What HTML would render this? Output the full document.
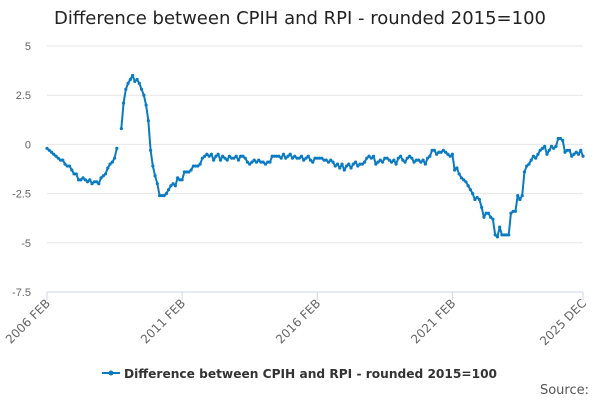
<!DOCTYPE html>
<html><head><meta charset="utf-8"><style>
body{margin:0;background:#fff;font-family:"Liberation Sans",sans-serif;}
svg{display:block}
</style></head><body>
<svg id="c" width="600" height="400">
<text x="300" y="24" text-anchor="middle" font-size="18" fill="#222" font-family="DejaVu Sans, sans-serif">Difference between CPIH and RPI - rounded 2015=100</text>
<g id="grid"></g><g id="series"></g>
<g>
<line x1="102" y1="373" x2="120" y2="373" stroke="#0a7bc2" stroke-width="2"/>
<circle cx="111" cy="373" r="2.5" fill="#0a7bc2"/>
<text x="124" y="378" font-size="12.2" font-weight="bold" fill="#333" font-family="DejaVu Sans, sans-serif">Difference between CPIH and RPI - rounded 2015=100</text>
</g>
<text x="589" y="394" text-anchor="end" font-size="13" fill="#555" font-family="DejaVu Sans, sans-serif">Source:</text>
</svg>
<script>
const yTicks=[5,2.5,0,-2.5,-5,-7.5];
const yTickLabels=["5","2.5","0","-2.5","-5","-7.5"];
const xTickIdx=[0,60,120,180,238];
const xTickLabels=["2006 FEB","2011 FEB","2016 FEB","2021 FEB","2025 DEC"];
const values=[
-0.2,-0.3,-0.4,-0.5,-0.6,-0.7,-0.8,-0.8,-1.0,-1.1,-1.1,-1.3,-1.5,-1.5,-1.8,-1.8,-1.7,-1.8,-1.9,-1.8,-2.0,-1.9,-1.9,-2.0,-1.7,-1.6,-1.5,-1.2,-1.0,-0.9,-0.7,-0.2,
null,
0.8,2.1,2.8,3.1,3.3,3.5,3.2,3.3,3.1,2.8,2.5,2.0,1.2,-0.3,-1.1,-1.6,-2.0,
-2.6,-2.6,-2.6,-2.5,-2.3,-2.1,-2.0,-2.1,-1.7,-1.8,-1.8,
-1.4,-1.4,-1.4,-1.3,-1.1,-1.1,-1.1,-1.0,-0.7,-0.6,-0.5,-0.6,-0.5,-0.8,-0.6,-0.5,-0.8,-0.6,-0.7,-0.8,-0.6,-0.7,-0.7,-0.6,-0.8,-0.6,-0.6,-0.7,-0.9,-1.0,
-0.9,-0.8,-0.9,-0.8,-0.9,-0.9,-1.0,-0.9,-0.9,-0.6,-0.6,-0.6,-0.6,-0.7,-0.5,-0.7,-0.6,-0.5,-0.7,-0.6,-0.7,-0.7,-0.6,-0.8,-0.7,-0.6,-0.8,-0.9,-0.7,-0.7,
-0.7,-0.7,-0.8,-0.8,-0.9,-0.8,-0.9,-1.1,-1.0,-1.2,-1.0,-1.3,-1.1,-1.0,-1.2,-1.0,-0.9,-1.1,-1.0,-1.0,-0.9,-0.7,-0.6,-0.7,-0.6,-1.0,-0.9,-0.8,-0.9,-0.7,
-0.7,-0.8,-0.9,-0.8,-1.0,-0.7,-0.6,-0.8,-0.9,-0.7,-0.6,-0.7,-0.9,-0.8,-0.8,-0.9,-0.8,-1.0,-0.7,-0.6,
-0.3,-0.3,-0.5,-0.4,-0.4,-0.3,-0.4,-0.5,-0.6,-0.5,-1.3,-1.2,-1.5,-1.7,-1.8,-1.9,-2.1,-2.3,-2.5,-2.8,-2.7,-2.8,-3.2,-3.7,-3.5,-3.5,-3.7,-3.8,-4.6,-4.7,
-4.2,-4.6,-4.6,-4.6,-4.6,-3.5,-3.4,-3.4,-2.6,-2.8,-2.6,-1.4,-1.1,-1.0,-0.8,-0.6,-0.7,-0.5,-0.3,-0.2,-0.1,-0.5,-0.3,-0.1,-0.2,-0.1,0.3,0.3,0.2,-0.4,-0.3,-0.3,-0.6,-0.5,-0.4,-0.5,-0.3,-0.6
];
const NS="http://www.w3.org/2000/svg";
const X0=47,X1=583,Y5=46,Ym75=292,N=239;
const xs=i=>X0+(X1-X0)*i/(N-1);
const ys=v=>Y5+(5-v)*(Ym75-Y5)/12.5;
const grid=document.getElementById('grid'),ser=document.getElementById('series');
function mk(t,a,p){const e=document.createElementNS(NS,t);for(const k in a)e.setAttribute(k,a[k]);p.appendChild(e);return e;}
yTicks.forEach((v,i)=>{
 const l=mk('line',{x1:X0,x2:X1,y1:ys(v),y2:ys(v),stroke:i==yTicks.length-1?'#ccd6eb':'#e6e6e6','stroke-width':1},grid);
 
 
 const t=mk('text',{x:31,y:ys(v)+4,'text-anchor':'end','font-size':11,fill:'#666'},grid);
 t.textContent=yTickLabels[i];
 
 
});
xTickIdx.forEach((ix,i)=>{
 const x=xs(ix);
 const tk=mk('line',{x1:x,x2:x,y1:Ym75,y2:Ym75+8,stroke:'#ccd6eb'},grid);
 
 
 const t=mk('text',{x:x+4,y:Ym75+12,'text-anchor':'end','font-size':12,fill:'#666','font-family':'DejaVu Sans, sans-serif',transform:`rotate(-45 ${x+4} ${Ym75+12})`},grid);
 t.textContent=xTickLabels[i];
 
 
});
let d='',pen=false;
values.forEach((v,i)=>{
 if(v===null){pen=false;return;}
 d+=(pen?'L':'M')+xs(i).toFixed(2)+' '+ys(v).toFixed(2);pen=true;
});
const p=mk('path',{d:d,fill:'none',stroke:'#0a7bc2','stroke-width':2,'stroke-linejoin':'round'},ser);


values.forEach((v,i)=>{
 if(v===null)return;
 const c=mk('circle',{cx:xs(i),cy:ys(v),r:1.6,fill:'#0a7bc2'},ser);
 
 
});
</script>
</body></html>
